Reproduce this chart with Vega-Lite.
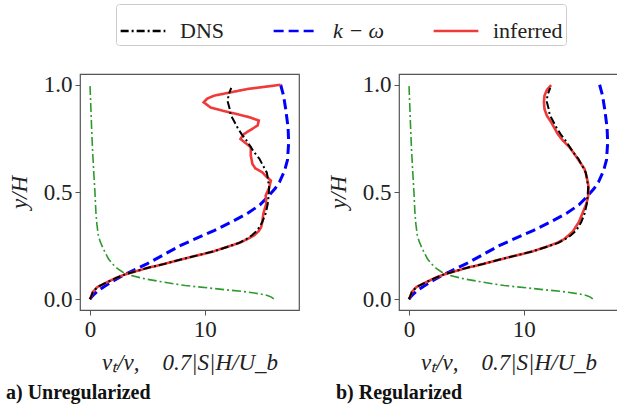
{
  "$schema": "https://vega.github.io/schema/vega-lite/v6.json",
  "padding": {"left": 5, "top": 3, "right": 0, "bottom": 0},
  "background": "white",
  "datasets": {
    "curves": [
      {"s": "DNS", "p": "both", "y": 0.0, "x": 0.0},
      {"s": "DNS", "p": "both", "y": 0.011, "x": 0.09},
      {"s": "DNS", "p": "both", "y": 0.034, "x": 0.25},
      {"s": "DNS", "p": "both", "y": 0.057, "x": 0.65},
      {"s": "DNS", "p": "both", "y": 0.08, "x": 1.5},
      {"s": "DNS", "p": "both", "y": 0.1, "x": 2.3},
      {"s": "DNS", "p": "both", "y": 0.115, "x": 3.0},
      {"s": "DNS", "p": "both", "y": 0.146, "x": 5.0},
      {"s": "DNS", "p": "both", "y": 0.165, "x": 6.5},
      {"s": "DNS", "p": "both", "y": 0.185, "x": 7.9},
      {"s": "DNS", "p": "both", "y": 0.205, "x": 9.4},
      {"s": "DNS", "p": "both", "y": 0.224, "x": 10.8},
      {"s": "DNS", "p": "both", "y": 0.245, "x": 12.0},
      {"s": "DNS", "p": "both", "y": 0.263, "x": 13.0},
      {"s": "DNS", "p": "both", "y": 0.28, "x": 13.6},
      {"s": "DNS", "p": "both", "y": 0.298, "x": 14.1},
      {"s": "DNS", "p": "both", "y": 0.318, "x": 14.5},
      {"s": "DNS", "p": "both", "y": 0.336, "x": 14.75},
      {"s": "DNS", "p": "both", "y": 0.36, "x": 15.0},
      {"s": "DNS", "p": "both", "y": 0.4, "x": 15.3},
      {"s": "DNS", "p": "both", "y": 0.445, "x": 15.48},
      {"s": "DNS", "p": "both", "y": 0.48, "x": 15.55},
      {"s": "DNS", "p": "both", "y": 0.52, "x": 15.6},
      {"s": "DNS", "p": "both", "y": 0.56, "x": 15.5},
      {"s": "DNS", "p": "both", "y": 0.59, "x": 15.4},
      {"s": "DNS", "p": "both", "y": 0.62, "x": 15.1},
      {"s": "DNS", "p": "both", "y": 0.655, "x": 14.75},
      {"s": "DNS", "p": "both", "y": 0.685, "x": 14.3},
      {"s": "DNS", "p": "both", "y": 0.71, "x": 14.0},
      {"s": "DNS", "p": "both", "y": 0.735, "x": 13.7},
      {"s": "DNS", "p": "both", "y": 0.77, "x": 13.2},
      {"s": "DNS", "p": "both", "y": 0.8, "x": 12.85},
      {"s": "DNS", "p": "both", "y": 0.83, "x": 12.55},
      {"s": "DNS", "p": "both", "y": 0.86, "x": 12.25},
      {"s": "DNS", "p": "both", "y": 0.89, "x": 12.15},
      {"s": "DNS", "p": "both", "y": 0.92, "x": 12.0},
      {"s": "DNS", "p": "both", "y": 0.95, "x": 12.05},
      {"s": "DNS", "p": "both", "y": 0.985, "x": 12.3},

      {"s": "k − ω", "p": "both", "y": 0.0, "x": 0.0},
      {"s": "k − ω", "p": "both", "y": 0.01, "x": 0.12},
      {"s": "k − ω", "p": "both", "y": 0.02, "x": 0.3},
      {"s": "k − ω", "p": "both", "y": 0.04, "x": 0.7},
      {"s": "k − ω", "p": "both", "y": 0.06, "x": 1.25},
      {"s": "k − ω", "p": "both", "y": 0.088, "x": 2.1},
      {"s": "k − ω", "p": "both", "y": 0.12, "x": 3.2},
      {"s": "k − ω", "p": "both", "y": 0.166, "x": 5.0},
      {"s": "k − ω", "p": "both", "y": 0.21, "x": 6.5},
      {"s": "k − ω", "p": "both", "y": 0.251, "x": 7.9},
      {"s": "k − ω", "p": "both", "y": 0.285, "x": 9.3},
      {"s": "k − ω", "p": "both", "y": 0.32, "x": 10.8},
      {"s": "k − ω", "p": "both", "y": 0.36, "x": 12.3},
      {"s": "k − ω", "p": "both", "y": 0.4, "x": 13.7},
      {"s": "k − ω", "p": "both", "y": 0.44, "x": 14.8},
      {"s": "k − ω", "p": "both", "y": 0.476, "x": 15.45},
      {"s": "k − ω", "p": "both", "y": 0.515, "x": 16.1},
      {"s": "k − ω", "p": "both", "y": 0.546, "x": 16.5},
      {"s": "k − ω", "p": "both", "y": 0.6, "x": 16.95},
      {"s": "k − ω", "p": "both", "y": 0.65, "x": 17.2},
      {"s": "k − ω", "p": "both", "y": 0.73, "x": 17.3},
      {"s": "k − ω", "p": "both", "y": 0.8, "x": 17.25},
      {"s": "k − ω", "p": "both", "y": 0.887, "x": 17.04},
      {"s": "k − ω", "p": "both", "y": 0.95, "x": 16.85},
      {"s": "k − ω", "p": "both", "y": 1.0, "x": 16.6},

      {"s": "S", "p": "both", "y": 1.0, "x": 0.0},
      {"s": "S", "p": "both", "y": 0.9, "x": 0.07},
      {"s": "S", "p": "both", "y": 0.8, "x": 0.14},
      {"s": "S", "p": "both", "y": 0.7, "x": 0.22},
      {"s": "S", "p": "both", "y": 0.6, "x": 0.32},
      {"s": "S", "p": "both", "y": 0.5, "x": 0.43},
      {"s": "S", "p": "both", "y": 0.4, "x": 0.52},
      {"s": "S", "p": "both", "y": 0.35, "x": 0.6},
      {"s": "S", "p": "both", "y": 0.3, "x": 0.72},
      {"s": "S", "p": "both", "y": 0.27, "x": 0.88},
      {"s": "S", "p": "both", "y": 0.24, "x": 1.12},
      {"s": "S", "p": "both", "y": 0.21, "x": 1.4},
      {"s": "S", "p": "both", "y": 0.189, "x": 1.6},
      {"s": "S", "p": "both", "y": 0.165, "x": 1.95},
      {"s": "S", "p": "both", "y": 0.143, "x": 2.4},
      {"s": "S", "p": "both", "y": 0.125, "x": 2.9},
      {"s": "S", "p": "both", "y": 0.112, "x": 3.5},
      {"s": "S", "p": "both", "y": 0.095, "x": 4.8},
      {"s": "S", "p": "both", "y": 0.08, "x": 6.4},
      {"s": "S", "p": "both", "y": 0.064, "x": 8.3},
      {"s": "S", "p": "both", "y": 0.05, "x": 10.8},
      {"s": "S", "p": "both", "y": 0.034, "x": 13.7},
      {"s": "S", "p": "both", "y": 0.025, "x": 14.8},
      {"s": "S", "p": "both", "y": 0.018, "x": 15.45},
      {"s": "S", "p": "both", "y": 0.01, "x": 15.8},
      {"s": "S", "p": "both", "y": 0.002, "x": 16.0},

      {"s": "inferred", "p": "a", "y": 0.0, "x": 0.0},
      {"s": "inferred", "p": "a", "y": 0.011, "x": 0.09},
      {"s": "inferred", "p": "a", "y": 0.034, "x": 0.25},
      {"s": "inferred", "p": "a", "y": 0.057, "x": 0.65},
      {"s": "inferred", "p": "a", "y": 0.08, "x": 1.5},
      {"s": "inferred", "p": "a", "y": 0.1, "x": 2.3},
      {"s": "inferred", "p": "a", "y": 0.115, "x": 3.0},
      {"s": "inferred", "p": "a", "y": 0.146, "x": 5.0},
      {"s": "inferred", "p": "a", "y": 0.165, "x": 6.5},
      {"s": "inferred", "p": "a", "y": 0.185, "x": 7.9},
      {"s": "inferred", "p": "a", "y": 0.205, "x": 9.4},
      {"s": "inferred", "p": "a", "y": 0.224, "x": 10.8},
      {"s": "inferred", "p": "a", "y": 0.245, "x": 12.0},
      {"s": "inferred", "p": "a", "y": 0.263, "x": 13.0},
      {"s": "inferred", "p": "a", "y": 0.28, "x": 13.7},
      {"s": "inferred", "p": "a", "y": 0.298, "x": 14.3},
      {"s": "inferred", "p": "a", "y": 0.318, "x": 14.7},
      {"s": "inferred", "p": "a", "y": 0.336, "x": 14.9},
      {"s": "inferred", "p": "a", "y": 0.36, "x": 15.0},
      {"s": "inferred", "p": "a", "y": 0.4, "x": 15.1},
      {"s": "inferred", "p": "a", "y": 0.445, "x": 15.35},
      {"s": "inferred", "p": "a", "y": 0.484, "x": 15.3},
      {"s": "inferred", "p": "a", "y": 0.52, "x": 15.6},
      {"s": "inferred", "p": "a", "y": 0.553, "x": 15.75},
      {"s": "inferred", "p": "a", "y": 0.575, "x": 15.3},
      {"s": "inferred", "p": "a", "y": 0.592, "x": 15.0},
      {"s": "inferred", "p": "a", "y": 0.61, "x": 14.4},
      {"s": "inferred", "p": "a", "y": 0.63, "x": 14.15},
      {"s": "inferred", "p": "a", "y": 0.67, "x": 14.0},
      {"s": "inferred", "p": "a", "y": 0.709, "x": 14.0},
      {"s": "inferred", "p": "a", "y": 0.73, "x": 13.5},
      {"s": "inferred", "p": "a", "y": 0.747, "x": 13.1},
      {"s": "inferred", "p": "a", "y": 0.77, "x": 13.4},
      {"s": "inferred", "p": "a", "y": 0.79, "x": 14.0},
      {"s": "inferred", "p": "a", "y": 0.81, "x": 14.6},
      {"s": "inferred", "p": "a", "y": 0.833, "x": 14.7},
      {"s": "inferred", "p": "a", "y": 0.85, "x": 13.8},
      {"s": "inferred", "p": "a", "y": 0.863, "x": 12.8},
      {"s": "inferred", "p": "a", "y": 0.878, "x": 11.6},
      {"s": "inferred", "p": "a", "y": 0.894, "x": 10.5},
      {"s": "inferred", "p": "a", "y": 0.918, "x": 9.9},
      {"s": "inferred", "p": "a", "y": 0.935, "x": 10.2},
      {"s": "inferred", "p": "a", "y": 0.949, "x": 10.8},
      {"s": "inferred", "p": "a", "y": 0.965, "x": 12.3},
      {"s": "inferred", "p": "a", "y": 0.98, "x": 13.7},
      {"s": "inferred", "p": "a", "y": 0.99, "x": 15.2},
      {"s": "inferred", "p": "a", "y": 1.0, "x": 16.6},

      {"s": "inferred", "p": "b", "y": 0.0, "x": 0.0},
      {"s": "inferred", "p": "b", "y": 0.011, "x": 0.09},
      {"s": "inferred", "p": "b", "y": 0.034, "x": 0.25},
      {"s": "inferred", "p": "b", "y": 0.057, "x": 0.65},
      {"s": "inferred", "p": "b", "y": 0.08, "x": 1.5},
      {"s": "inferred", "p": "b", "y": 0.1, "x": 2.3},
      {"s": "inferred", "p": "b", "y": 0.115, "x": 3.0},
      {"s": "inferred", "p": "b", "y": 0.146, "x": 5.0},
      {"s": "inferred", "p": "b", "y": 0.165, "x": 6.5},
      {"s": "inferred", "p": "b", "y": 0.185, "x": 7.9},
      {"s": "inferred", "p": "b", "y": 0.205, "x": 9.4},
      {"s": "inferred", "p": "b", "y": 0.224, "x": 10.8},
      {"s": "inferred", "p": "b", "y": 0.245, "x": 12.0},
      {"s": "inferred", "p": "b", "y": 0.263, "x": 12.9},
      {"s": "inferred", "p": "b", "y": 0.28, "x": 13.5},
      {"s": "inferred", "p": "b", "y": 0.298, "x": 13.9},
      {"s": "inferred", "p": "b", "y": 0.318, "x": 14.3},
      {"s": "inferred", "p": "b", "y": 0.336, "x": 14.5},
      {"s": "inferred", "p": "b", "y": 0.36, "x": 14.8},
      {"s": "inferred", "p": "b", "y": 0.4, "x": 15.1},
      {"s": "inferred", "p": "b", "y": 0.445, "x": 15.45},
      {"s": "inferred", "p": "b", "y": 0.48, "x": 15.6},
      {"s": "inferred", "p": "b", "y": 0.52, "x": 15.65},
      {"s": "inferred", "p": "b", "y": 0.546, "x": 15.57},
      {"s": "inferred", "p": "b", "y": 0.575, "x": 15.45},
      {"s": "inferred", "p": "b", "y": 0.608, "x": 15.28},
      {"s": "inferred", "p": "b", "y": 0.63, "x": 15.0},
      {"s": "inferred", "p": "b", "y": 0.654, "x": 14.7},
      {"s": "inferred", "p": "b", "y": 0.685, "x": 14.3},
      {"s": "inferred", "p": "b", "y": 0.709, "x": 13.97},
      {"s": "inferred", "p": "b", "y": 0.74, "x": 13.4},
      {"s": "inferred", "p": "b", "y": 0.77, "x": 12.96},
      {"s": "inferred", "p": "b", "y": 0.8, "x": 12.65},
      {"s": "inferred", "p": "b", "y": 0.825, "x": 12.38},
      {"s": "inferred", "p": "b", "y": 0.856, "x": 12.0},
      {"s": "inferred", "p": "b", "y": 0.887, "x": 11.8},
      {"s": "inferred", "p": "b", "y": 0.92, "x": 11.75},
      {"s": "inferred", "p": "b", "y": 0.949, "x": 11.8},
      {"s": "inferred", "p": "b", "y": 0.975, "x": 12.0},
      {"s": "inferred", "p": "b", "y": 0.998, "x": 12.38}
    ]
  },
  "data": {"name": "curves"},
  "spacing": 26,
  "resolve": {
    "scale": {"color": "shared", "strokeDash": "shared"},
    "legend": {"color": "shared", "strokeDash": "shared"}
  },
  "hconcat": [
    {
      "width": 219,
      "height": 236,
      "title": {"text": "a) Unregularized", "orient": "bottom", "anchor": "start", "frame": "group", "dx": -74, "offset": 9},
      "transform": [{"filter": "datum.p == 'a' || datum.p == 'both'"}],
      "encoding": {
        "x": {"field": "x", "type": "quantitative", "scale": {"domain": [-0.87, 18.2], "nice": false, "zero": false}, "axis": {"values": [0, 10], "title": "νₜ/ν,\u00a0\u00a0\u00a0\u00a00.7|S|H/U_b"}},
        "y": {"field": "y", "type": "quantitative", "scale": {"domain": [-0.05, 1.05], "nice": false, "zero": false}, "axis": {"values": [0, 0.5, 1], "format": ".1f", "title": "y/H"}},
        "order": {"field": "y", "type": "quantitative"}
      },
      "layer": [
        {"transform": [{"filter": "datum.s == 'S'"}], "mark": {"type": "line", "color": "#2e9a2e", "strokeWidth": 1.6, "strokeDash": [9, 3, 2, 3]}},
        {"transform": [{"filter": "datum.s == 'k − ω'"}], "mark": {"type": "line", "strokeWidth": 3},
         "encoding": {
           "color": {"field": "s", "type": "nominal", "scale": {"domain": ["DNS", "k − ω", "inferred"], "range": ["#000000", "#0000ff", "#f03a3a"]},
             "legend": {"encode": {"labels": {"update": {"fontStyle": {"signal": "datum.label == 'k − ω' ? 'italic' : 'normal'"}}}}}},
           "strokeDash": {"field": "s", "type": "nominal", "scale": {"domain": ["DNS", "k − ω", "inferred"], "range": [[8, 3, 2, 3], [10, 5], [1, 0]]}}}},
        {"transform": [{"filter": "datum.s == 'inferred'"}], "mark": {"type": "line", "strokeWidth": 2.6},
         "encoding": {"color": {"field": "s", "type": "nominal"}, "strokeDash": {"field": "s", "type": "nominal"}}},
        {"transform": [{"filter": "datum.s == 'DNS'"}], "mark": {"type": "line", "strokeWidth": 2},
         "encoding": {"color": {"field": "s", "type": "nominal"}, "strokeDash": {"field": "s", "type": "nominal"}}}
      ]
    },
    {
      "width": 219,
      "height": 236,
      "title": {"text": "b) Regularized", "orient": "bottom", "anchor": "start", "frame": "group", "dx": -63, "offset": 9},
      "transform": [{"filter": "datum.p == 'b' || datum.p == 'both'"}],
      "encoding": {
        "x": {"field": "x", "type": "quantitative", "scale": {"domain": [-0.87, 18.2], "nice": false, "zero": false}, "axis": {"values": [0, 10], "title": "νₜ/ν,\u00a0\u00a0\u00a0\u00a00.7|S|H/U_b"}},
        "y": {"field": "y", "type": "quantitative", "scale": {"domain": [-0.05, 1.05], "nice": false, "zero": false}, "axis": {"values": [0, 0.5, 1], "format": ".1f", "title": "y/H"}},
        "order": {"field": "y", "type": "quantitative"}
      },
      "layer": [
        {"transform": [{"filter": "datum.s == 'S'"}], "mark": {"type": "line", "color": "#2e9a2e", "strokeWidth": 1.6, "strokeDash": [9, 3, 2, 3]}},
        {"transform": [{"filter": "datum.s == 'k − ω'"}], "mark": {"type": "line", "strokeWidth": 3},
         "encoding": {"color": {"field": "s", "type": "nominal"}, "strokeDash": {"field": "s", "type": "nominal"}}},
        {"transform": [{"filter": "datum.s == 'inferred'"}], "mark": {"type": "line", "strokeWidth": 2.6},
         "encoding": {"color": {"field": "s", "type": "nominal"}, "strokeDash": {"field": "s", "type": "nominal"}}},
        {"transform": [{"filter": "datum.s == 'DNS'"}], "mark": {"type": "line", "strokeWidth": 2},
         "encoding": {"color": {"field": "s", "type": "nominal"}, "strokeDash": {"field": "s", "type": "nominal"}}}
      ]
    }
  ],
  "config": {
    "font": "Liberation Serif",
    "view": {"stroke": "#555555", "strokeWidth": 1.2},
    "axis": {
      "labelFont": "Liberation Serif", "labelFontSize": 23, "labelColor": "#222222",
      "titleFont": "Liberation Serif", "titleFontSize": 23, "titleFontWeight": "normal", "titleFontStyle": "italic", "titleColor": "#222222",
      "domain": false, "grid": false, "tickColor": "#555555", "tickSize": 5, "labelPadding": 3
    },
    "axisY": {"titlePadding": 12},
    "axisX": {"titlePadding": 10},
    "title": {"font": "Liberation Serif", "fontSize": 20, "fontWeight": "bold", "color": "#111111"},
    "legend": {
      "orient": "none", "legendX": 36, "legendY": -70, "direction": "horizontal", "title": null,
      "labelFont": "Liberation Serif", "labelFontSize": 22, "labelColor": "#222222",
      "symbolType": "stroke", "symbolSize": 2000, "symbolStrokeWidth": 2.5,
      "strokeColor": "#cccccc", "padding": 3, "cornerRadius": 3, "columnPadding": 43, "labelOffset": 13
    }
  }
}
